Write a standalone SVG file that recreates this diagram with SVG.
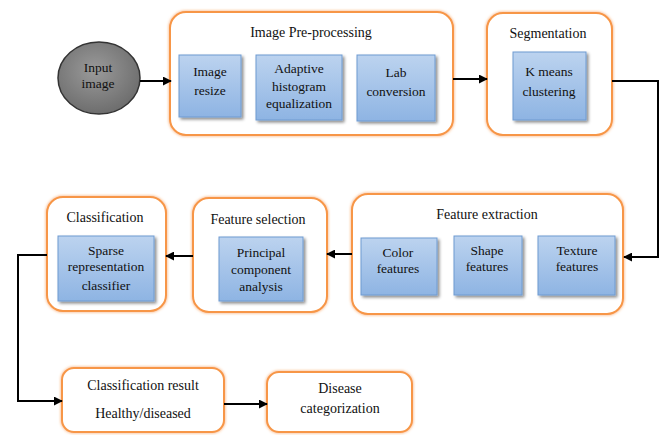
<svg xmlns="http://www.w3.org/2000/svg" width="664" height="435" viewBox="0 0 664 435" font-family="'Liberation Serif', 'DejaVu Serif', serif">
<defs>
<linearGradient id="blue" x1="0" y1="0" x2="0" y2="1">
<stop offset="0" stop-color="#bcd3ef"/>
<stop offset="1" stop-color="#8eb4e3"/>
</linearGradient>
<radialGradient id="gray" cx="0.45" cy="0.4" r="0.65">
<stop offset="0" stop-color="#9a9a9a"/>
<stop offset="1" stop-color="#6a6a6a"/>
</radialGradient>
<filter id="glow" x="-10%" y="-10%" width="120%" height="120%">
<feGaussianBlur in="SourceGraphic" stdDeviation="1.6" result="b"/>
<feMerge><feMergeNode in="b"/><feMergeNode in="SourceGraphic"/></feMerge>
</filter>
<filter id="shadow" x="-20%" y="-20%" width="140%" height="140%">
<feDropShadow dx="2" dy="2" stdDeviation="1.8" flood-color="#000" flood-opacity="0.45"/>
</filter>
<marker id="arr" viewBox="0 0 10 10" refX="9" refY="5" markerWidth="4.5" markerHeight="4.5" orient="auto" markerUnits="strokeWidth">
<path d="M0,0 L10,5 L0,10 z" fill="#000"/>
</marker>
</defs>
<style>
.stage{fill:#fff;stroke:#f79646;stroke-width:2;filter:url(#glow)}
.sub{fill:url(#blue);stroke:#6f9bd1;stroke-width:1;filter:url(#shadow)}
text{font-family:"Liberation Serif","DejaVu Serif",serif;fill:#111;text-anchor:middle}
.t{font-size:14px}
.s{font-size:13.5px}
.conn{fill:none;stroke:#000;stroke-width:2;marker-end:url(#arr)}
</style>

<g id="input-image">
<ellipse cx="99" cy="78" rx="41" ry="36" fill="url(#gray)" stroke="#333" stroke-width="1.5"/>
<text class="s" x="98" y="71.5">Input</text>
<text class="s" x="98" y="87.5">image</text>
</g>

<g id="image-preprocessing">
<rect class="stage" x="170" y="12" width="283" height="123" rx="16"/>
<text class="t" x="311" y="37">Image Pre-processing</text>
<rect class="sub" x="179" y="55" width="62" height="62"/>
<text class="s" x="210" y="75.5">Image</text>
<text class="s" x="210" y="94.5">resize</text>
<rect class="sub" x="256" y="55" width="86" height="65"/>
<text class="s" x="299" y="72.5">Adaptive</text>
<text class="s" x="299" y="90.5">histogram</text>
<text class="s" x="299" y="107.5">equalization</text>
<rect class="sub" x="357" y="55" width="78" height="66"/>
<text class="s" x="396" y="76.5">Lab</text>
<text class="s" x="396" y="95.5">conversion</text>
</g>

<g id="segmentation">
<rect class="stage" x="487" y="13" width="125" height="122" rx="16"/>
<text class="t" x="548" y="38">Segmentation</text>
<rect class="sub" x="513" y="52" width="73" height="68"/>
<text class="s" x="549" y="75.5">K means</text>
<text class="s" x="549" y="95.5">clustering</text>
</g>

<g id="feature-extraction">
<rect class="stage" x="352" y="194" width="271" height="120" rx="16"/>
<text class="t" x="487" y="219">Feature extraction</text>
<rect class="sub" x="361" y="238" width="76" height="57"/>
<text class="s" x="398" y="256.5">Color</text>
<text class="s" x="398" y="272.5">features</text>
<rect class="sub" x="454" y="236" width="68" height="59"/>
<text class="s" x="487" y="254.5">Shape</text>
<text class="s" x="487" y="270.5">features</text>
<rect class="sub" x="538" y="236" width="77" height="59"/>
<text class="s" x="577" y="254.5">Texture</text>
<text class="s" x="577" y="270.5">features</text>
</g>

<g id="feature-selection">
<rect class="stage" x="193" y="198" width="134" height="114" rx="16"/>
<text class="t" x="258" y="223.5">Feature selection</text>
<rect class="sub" x="219" y="237" width="84" height="64"/>
<text class="s" x="261" y="256.5">Principal</text>
<text class="s" x="261" y="273.5">component</text>
<text class="s" x="261" y="290.5">analysis</text>
</g>

<g id="classification">
<rect class="stage" x="47" y="197" width="119" height="114" rx="16"/>
<text class="t" x="105" y="221.5">Classification</text>
<rect class="sub" x="58" y="236" width="96" height="65"/>
<text class="s" x="106" y="254.5">Sparse</text>
<text class="s" x="106" y="271">representation</text>
<text class="s" x="106" y="289.5">classifier</text>
</g>

<g id="classification-result">
<rect class="stage" x="62" y="368" width="162" height="64" rx="12"/>
<text class="t" x="143" y="389.5">Classification result</text>
<text class="t" x="143" y="417.5">Healthy/diseased</text>
</g>

<g id="disease-categorization">
<rect class="stage" x="267" y="372" width="145" height="60" rx="12"/>
<text class="t" x="340" y="392.5">Disease</text>
<text class="t" x="340" y="412.5">categorization</text>
</g>

<g id="connectors">
<path class="conn" d="M140 81 H171"/>
<path class="conn" d="M453 79 H487"/>
<path class="conn" d="M612 81 H658 V257 H624"/>
<path class="conn" d="M352 254 H327"/>
<path class="conn" d="M193 256 H166"/>
<path class="conn" d="M47 255 H18 V401 H62"/>
<path class="conn" d="M224 404 H267"/>
</g>
</svg>
